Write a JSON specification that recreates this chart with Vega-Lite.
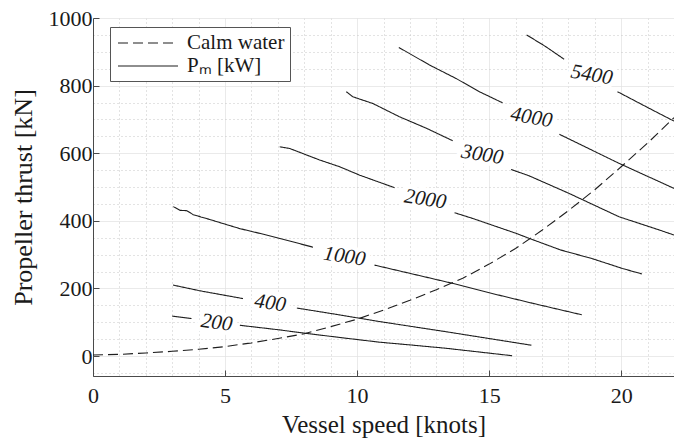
{
  "$schema": "https://vega.github.io/schema/vega-lite/v6.json",
  "width": 581,
  "height": 358,
  "autosize": {"type": "none"},
  "padding": {"left": 93, "top": 18, "right": 0, "bottom": 65},
  "background": "white",
  "config": {
    "font": "Liberation Serif",
    "view": {"stroke": null},
    "axis": {
      "labelFont": "Liberation Serif",
      "labelFontSize": 22,
      "labelColor": "#1a1a1a",
      "titleFont": "Liberation Serif",
      "titleFontSize": 25,
      "titleFontWeight": "normal",
      "titleColor": "#1a1a1a",
      "domainColor": "#4a4a4a",
      "domainWidth": 1,
      "tickColor": "#4a4a4a",
      "tickSize": -6,
      "labelFlush": false,
      "labelOverlap": false,
      "format": "d"
    }
  },
  "datasets": {
    "curves": [
      {"series": "Calm water", "level": "calm", "segment": "a", "speed": 0, "thrust": 3},
      {"series": "Calm water", "level": "calm", "segment": "a", "speed": 1, "thrust": 5},
      {"series": "Calm water", "level": "calm", "segment": "a", "speed": 2, "thrust": 9},
      {"series": "Calm water", "level": "calm", "segment": "a", "speed": 3, "thrust": 14},
      {"series": "Calm water", "level": "calm", "segment": "a", "speed": 4, "thrust": 20},
      {"series": "Calm water", "level": "calm", "segment": "a", "speed": 5, "thrust": 28},
      {"series": "Calm water", "level": "calm", "segment": "a", "speed": 6, "thrust": 39},
      {"series": "Calm water", "level": "calm", "segment": "a", "speed": 7, "thrust": 52},
      {"series": "Calm water", "level": "calm", "segment": "a", "speed": 8, "thrust": 66},
      {"series": "Calm water", "level": "calm", "segment": "a", "speed": 9, "thrust": 87},
      {"series": "Calm water", "level": "calm", "segment": "a", "speed": 10, "thrust": 109},
      {"series": "Calm water", "level": "calm", "segment": "a", "speed": 11, "thrust": 136},
      {"series": "Calm water", "level": "calm", "segment": "a", "speed": 12, "thrust": 165},
      {"series": "Calm water", "level": "calm", "segment": "a", "speed": 13, "thrust": 196},
      {"series": "Calm water", "level": "calm", "segment": "a", "speed": 14, "thrust": 230},
      {"series": "Calm water", "level": "calm", "segment": "a", "speed": 15, "thrust": 272},
      {"series": "Calm water", "level": "calm", "segment": "a", "speed": 16, "thrust": 318},
      {"series": "Calm water", "level": "calm", "segment": "a", "speed": 17, "thrust": 372},
      {"series": "Calm water", "level": "calm", "segment": "a", "speed": 18, "thrust": 430},
      {"series": "Calm water", "level": "calm", "segment": "a", "speed": 19, "thrust": 492},
      {"series": "Calm water", "level": "calm", "segment": "a", "speed": 20, "thrust": 560},
      {"series": "Calm water", "level": "calm", "segment": "a", "speed": 21, "thrust": 630},
      {"series": "Calm water", "level": "calm", "segment": "a", "speed": 22, "thrust": 705},

      {"series": "Pₘ [kW]", "level": "200", "segment": "a", "speed": 3.0, "thrust": 118},
      {"series": "Pₘ [kW]", "level": "200", "segment": "a", "speed": 3.73, "thrust": 111},
      {"series": "Pₘ [kW]", "level": "200", "segment": "b", "speed": 5.56, "thrust": 91},
      {"series": "Pₘ [kW]", "level": "200", "segment": "b", "speed": 7.0, "thrust": 78},
      {"series": "Pₘ [kW]", "level": "200", "segment": "b", "speed": 8.08, "thrust": 67},
      {"series": "Pₘ [kW]", "level": "200", "segment": "b", "speed": 9.34, "thrust": 55},
      {"series": "Pₘ [kW]", "level": "200", "segment": "b", "speed": 10.85, "thrust": 41},
      {"series": "Pₘ [kW]", "level": "200", "segment": "b", "speed": 12.0, "thrust": 33},
      {"series": "Pₘ [kW]", "level": "200", "segment": "b", "speed": 13.37, "thrust": 23},
      {"series": "Pₘ [kW]", "level": "200", "segment": "b", "speed": 15.87, "thrust": 1},

      {"series": "Pₘ [kW]", "level": "400", "segment": "a", "speed": 3.03, "thrust": 210},
      {"series": "Pₘ [kW]", "level": "400", "segment": "a", "speed": 4.05, "thrust": 193},
      {"series": "Pₘ [kW]", "level": "400", "segment": "a", "speed": 5.68, "thrust": 170},
      {"series": "Pₘ [kW]", "level": "400", "segment": "b", "speed": 7.72, "thrust": 142},
      {"series": "Pₘ [kW]", "level": "400", "segment": "b", "speed": 9.0, "thrust": 126},
      {"series": "Pₘ [kW]", "level": "400", "segment": "b", "speed": 10.16, "thrust": 111},
      {"series": "Pₘ [kW]", "level": "400", "segment": "b", "speed": 10.85, "thrust": 102},
      {"series": "Pₘ [kW]", "level": "400", "segment": "b", "speed": 13.37, "thrust": 72},
      {"series": "Pₘ [kW]", "level": "400", "segment": "b", "speed": 16.6, "thrust": 32},

      {"series": "Pₘ [kW]", "level": "1000", "segment": "a", "speed": 3.04, "thrust": 442},
      {"series": "Pₘ [kW]", "level": "1000", "segment": "a", "speed": 3.3, "thrust": 431},
      {"series": "Pₘ [kW]", "level": "1000", "segment": "a", "speed": 3.55, "thrust": 430},
      {"series": "Pₘ [kW]", "level": "1000", "segment": "a", "speed": 3.8, "thrust": 418},
      {"series": "Pₘ [kW]", "level": "1000", "segment": "a", "speed": 4.42, "thrust": 404},
      {"series": "Pₘ [kW]", "level": "1000", "segment": "a", "speed": 5.05, "thrust": 389},
      {"series": "Pₘ [kW]", "level": "1000", "segment": "a", "speed": 5.56, "thrust": 377},
      {"series": "Pₘ [kW]", "level": "1000", "segment": "a", "speed": 6.31, "thrust": 363},
      {"series": "Pₘ [kW]", "level": "1000", "segment": "a", "speed": 7.07, "thrust": 348},
      {"series": "Pₘ [kW]", "level": "1000", "segment": "a", "speed": 8.33, "thrust": 322},
      {"series": "Pₘ [kW]", "level": "1000", "segment": "b", "speed": 10.66, "thrust": 269},
      {"series": "Pₘ [kW]", "level": "1000", "segment": "b", "speed": 11.98, "thrust": 245},
      {"series": "Pₘ [kW]", "level": "1000", "segment": "b", "speed": 13.62, "thrust": 215},
      {"series": "Pₘ [kW]", "level": "1000", "segment": "b", "speed": 15.01, "thrust": 187},
      {"series": "Pₘ [kW]", "level": "1000", "segment": "b", "speed": 16.65, "thrust": 156},
      {"series": "Pₘ [kW]", "level": "1000", "segment": "b", "speed": 18.51, "thrust": 122},

      {"series": "Pₘ [kW]", "level": "2000", "segment": "a", "speed": 7.07, "thrust": 619},
      {"series": "Pₘ [kW]", "level": "2000", "segment": "a", "speed": 7.45, "thrust": 614},
      {"series": "Pₘ [kW]", "level": "2000", "segment": "a", "speed": 8.08, "thrust": 595},
      {"series": "Pₘ [kW]", "level": "2000", "segment": "a", "speed": 8.58, "thrust": 580},
      {"series": "Pₘ [kW]", "level": "2000", "segment": "a", "speed": 9.34, "thrust": 560},
      {"series": "Pₘ [kW]", "level": "2000", "segment": "a", "speed": 10.1, "thrust": 535},
      {"series": "Pₘ [kW]", "level": "2000", "segment": "a", "speed": 10.6, "thrust": 521},
      {"series": "Pₘ [kW]", "level": "2000", "segment": "a", "speed": 11.42, "thrust": 498},
      {"series": "Pₘ [kW]", "level": "2000", "segment": "b", "speed": 13.69, "thrust": 424},
      {"series": "Pₘ [kW]", "level": "2000", "segment": "b", "speed": 14.38, "thrust": 407},
      {"series": "Pₘ [kW]", "level": "2000", "segment": "b", "speed": 16.02, "thrust": 363},
      {"series": "Pₘ [kW]", "level": "2000", "segment": "b", "speed": 16.52, "thrust": 348},
      {"series": "Pₘ [kW]", "level": "2000", "segment": "b", "speed": 17.7, "thrust": 314},
      {"series": "Pₘ [kW]", "level": "2000", "segment": "b", "speed": 18.91, "thrust": 288},
      {"series": "Pₘ [kW]", "level": "2000", "segment": "b", "speed": 20.05, "thrust": 259},
      {"series": "Pₘ [kW]", "level": "2000", "segment": "b", "speed": 20.78, "thrust": 243},

      {"series": "Pₘ [kW]", "level": "3000", "segment": "a", "speed": 9.59, "thrust": 782},
      {"series": "Pₘ [kW]", "level": "3000", "segment": "a", "speed": 9.84, "thrust": 767},
      {"series": "Pₘ [kW]", "level": "3000", "segment": "a", "speed": 10.6, "thrust": 747},
      {"series": "Pₘ [kW]", "level": "3000", "segment": "a", "speed": 11.6, "thrust": 708},
      {"series": "Pₘ [kW]", "level": "3000", "segment": "a", "speed": 12.62, "thrust": 674},
      {"series": "Pₘ [kW]", "level": "3000", "segment": "a", "speed": 13.62, "thrust": 637},
      {"series": "Pₘ [kW]", "level": "3000", "segment": "b", "speed": 15.83, "thrust": 552},
      {"series": "Pₘ [kW]", "level": "3000", "segment": "b", "speed": 16.52, "thrust": 533},
      {"series": "Pₘ [kW]", "level": "3000", "segment": "b", "speed": 18.03, "thrust": 481},
      {"series": "Pₘ [kW]", "level": "3000", "segment": "b", "speed": 19.92, "thrust": 412},
      {"series": "Pₘ [kW]", "level": "3000", "segment": "b", "speed": 21.44, "thrust": 373},
      {"series": "Pₘ [kW]", "level": "3000", "segment": "b", "speed": 22.0, "thrust": 358},

      {"series": "Pₘ [kW]", "level": "4000", "segment": "a", "speed": 11.58, "thrust": 913},
      {"series": "Pₘ [kW]", "level": "4000", "segment": "a", "speed": 12.74, "thrust": 861},
      {"series": "Pₘ [kW]", "level": "4000", "segment": "a", "speed": 13.75, "thrust": 821},
      {"series": "Pₘ [kW]", "level": "4000", "segment": "a", "speed": 14.63, "thrust": 782},
      {"series": "Pₘ [kW]", "level": "4000", "segment": "a", "speed": 15.51, "thrust": 749},
      {"series": "Pₘ [kW]", "level": "4000", "segment": "b", "speed": 17.66, "thrust": 656},
      {"series": "Pₘ [kW]", "level": "4000", "segment": "b", "speed": 19.92, "thrust": 570},
      {"series": "Pₘ [kW]", "level": "4000", "segment": "b", "speed": 22.0, "thrust": 496},

      {"series": "Pₘ [kW]", "level": "5400", "segment": "a", "speed": 16.42, "thrust": 950},
      {"series": "Pₘ [kW]", "level": "5400", "segment": "a", "speed": 17.15, "thrust": 915},
      {"series": "Pₘ [kW]", "level": "5400", "segment": "a", "speed": 17.84, "thrust": 878},
      {"series": "Pₘ [kW]", "level": "5400", "segment": "b", "speed": 19.86, "thrust": 782},
      {"series": "Pₘ [kW]", "level": "5400", "segment": "b", "speed": 21.18, "thrust": 728},
      {"series": "Pₘ [kW]", "level": "5400", "segment": "b", "speed": 22.0, "thrust": 695}
    ],
    "labels": [
      {"label": "200", "speed": 4.68, "thrust": 98},
      {"label": "400", "speed": 6.71, "thrust": 156},
      {"label": "1000", "speed": 9.52, "thrust": 294},
      {"label": "2000", "speed": 12.58, "thrust": 463},
      {"label": "3000", "speed": 14.74, "thrust": 595},
      {"label": "4000", "speed": 16.6, "thrust": 705},
      {"label": "5400", "speed": 18.88, "thrust": 831}
    ]
  },
  "encoding": {
    "x": {
      "field": "speed",
      "type": "quantitative",
      "scale": {"domain": [0, 22], "nice": false, "zero": false},
      "axis": {
        "title": "Vessel speed [knots]",
        "values": [0, 1, 2, 3, 4, 5, 6, 7, 8, 9, 10, 11, 12, 13, 14, 15, 16, 17, 18, 19, 20, 21, 22],
        "labelExpr": "datum.value % 5 === 0 ? datum.label : ''",
        "labelPadding": 15,
        "titlePadding": 6,
        "gridColor": {"condition": {"test": "datum.value % 5 === 0", "value": "#e2e2e2"}, "value": "#c6c6c6"},
        "gridDash": {"condition": {"test": "datum.value % 5 === 0", "value": [1, 0]}, "value": [1, 3]},
        "tickOpacity": {"condition": {"test": "datum.value % 5 === 0", "value": 1}, "value": 0}
      }
    },
    "y": {
      "field": "thrust",
      "type": "quantitative",
      "scale": {"domain": [-59, 1000], "nice": false, "zero": false},
      "axis": {
        "title": "Propeller thrust [kN]",
        "titleFontSize": 26,
        "values": [-50, 0, 50, 100, 150, 200, 250, 300, 350, 400, 450, 500, 550, 600, 650, 700, 750, 800, 850, 900, 950, 1000],
        "labelExpr": "datum.value % 200 === 0 ? datum.label : ''",
        "labelPadding": 7,
        "titlePadding": 12,
        "gridColor": {"condition": {"test": "datum.value % 200 === 0", "value": "#e2e2e2"}, "value": "#c6c6c6"},
        "gridDash": {"condition": {"test": "datum.value % 200 === 0", "value": [1, 0]}, "value": [1, 3]},
        "tickOpacity": {"condition": {"test": "datum.value % 200 === 0", "value": 1}, "value": 0}
      }
    }
  },
  "layer": [
    {
      "data": {"name": "curves"},
      "mark": {"type": "line", "color": "#1e1e1e", "strokeWidth": 1.1},
      "encoding": {
        "detail": [{"field": "level"}, {"field": "segment"}],
        "strokeDash": {
          "field": "series",
          "type": "nominal",
          "scale": {"domain": ["Calm water", "Pₘ [kW]"], "range": [[10, 5], [1, 0]]},
          "legend": {
            "title": null,
            "orient": "none",
            "legendX": 17,
            "legendY": 9,
            "symbolType": "M-3,0H3",
            "symbolSize": 400,
            "symbolOffset": 22,
            "symbolStrokeColor": "#1e1e1e",
            "symbolStrokeWidth": 1.1,
            "labelOffset": 28,
            "labelFont": "Liberation Serif",
            "labelFontSize": 21,
            "labelColor": "#1a1a1a",
            "labelLimit": 300,
            "padding": 5,
            "rowPadding": 2,
            "fillColor": "white",
            "strokeColor": "#555555"
          }
        }
      }
    },
    {
      "data": {"name": "labels"},
      "mark": {"type": "text", "font": "Liberation Serif", "fontStyle": "italic", "fontSize": 21, "align": "center", "baseline": "middle", "fill": "white", "stroke": "white", "strokeWidth": 9, "strokeJoin": "round"},
      "encoding": {
        "text": {"field": "label"},
        "angle": {"field": "label", "type": "nominal", "scale": {"domain": ["200", "400", "1000", "2000", "3000", "4000", "5400"], "range": [8, 10, 16, 22.6, 26.2, 28.9, 31.3]}}
      }
    },
    {
      "data": {"name": "labels"},
      "mark": {"type": "text", "font": "Liberation Serif", "fontStyle": "italic", "fontSize": 21, "align": "center", "baseline": "middle", "fill": "#1a1a1a"},
      "encoding": {
        "text": {"field": "label"},
        "angle": {"field": "label", "type": "nominal", "scale": {"domain": ["200", "400", "1000", "2000", "3000", "4000", "5400"], "range": [8, 10, 16, 22.6, 26.2, 28.9, 31.3]}}
      }
    }
  ]
}
